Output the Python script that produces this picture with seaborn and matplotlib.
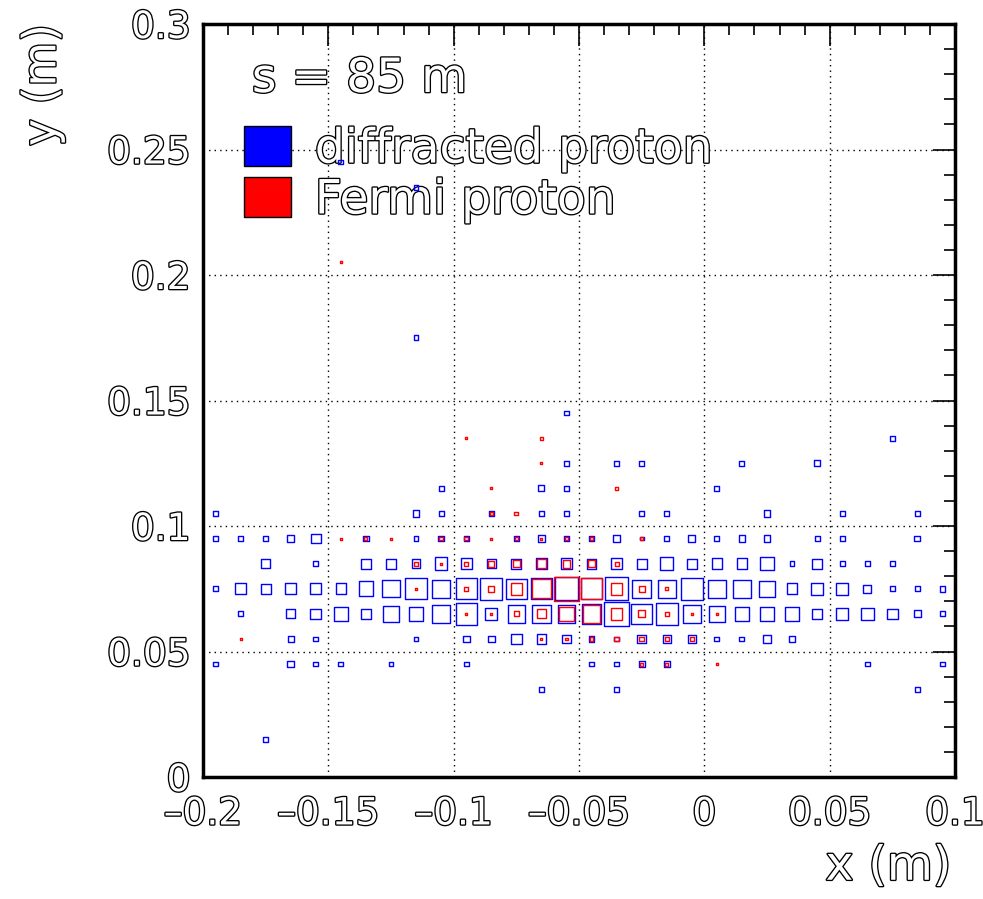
import numpy as np
import pandas as pd
import matplotlib
matplotlib.use("Agg")
import matplotlib.pyplot as plt
import matplotlib.patheffects as pe
from matplotlib.patches import Patch
from matplotlib.ticker import MultipleLocator, FuncFormatter
import seaborn as sns

# === histogram bins (bin centres, m) ===
X_CENTERS = [-0.195, -0.185, -0.175, -0.165, -0.155, -0.145, -0.135, -0.125, -0.115, -0.105,
             -0.095, -0.085, -0.075, -0.065, -0.055, -0.045, -0.035, -0.025, -0.015, -0.005,
             0.005, 0.015, 0.025, 0.035, 0.045, 0.055, 0.065, 0.075, 0.085, 0.095]
CORE_Y = [0.045, 0.055, 0.065, 0.075, 0.085, 0.095]

# bin contents in the dense band (one row per CORE_Y value)
BLUE_CORE = [
    [5, 0, 0, 7, 5, 5, 0, 5, 0, 0, 5, 0, 0, 0, 0, 5, 5, 6, 6, 0, 0, 0, 0, 0, 0, 0, 5, 0, 0, 5],
    [0, 0, 0, 6, 5, 0, 0, 0, 5, 0, 7, 7, 11, 10, 9, 6, 5, 9, 8, 8, 5, 5, 8, 6, 0, 0, 0, 0, 0, 0],
    [0, 5, 0, 9, 11, 14, 11, 17, 15, 19, 22, 12, 18, 19, 18, 20, 25, 21, 23, 19, 16, 15, 15, 15, 10, 12, 13, 11, 7, 5],
    [5, 11, 10, 11, 11, 11, 15, 18, 22, 19, 22, 23, 21, 22, 24, 22, 24, 19, 19, 23, 19, 19, 17, 11, 12, 12, 8, 5, 5, 6],
    [0, 0, 9, 0, 5, 0, 10, 10, 9, 13, 11, 9, 10, 12, 11, 10, 11, 10, 13, 10, 11, 11, 14, 5, 10, 5, 5, 5, 0, 0],
    [5, 5, 5, 7, 10, 0, 6, 0, 5, 6, 5, 0, 5, 7, 6, 6, 8, 4, 5, 7, 5, 7, 7, 0, 5, 5, 0, 0, 6, 0],
]
RED_CORE = [
    [0, 0, 0, 0, 0, 0, 0, 0, 0, 0, 0, 0, 0, 0, 0, 0, 0, 3, 3, 0, 2, 0, 0, 0, 0, 0, 0, 0, 0, 0],
    [0, 2, 0, 0, 0, 0, 0, 0, 0, 0, 0, 0, 0, 2, 3, 4, 5, 5, 4, 4, 0, 0, 0, 0, 0, 0, 0, 0, 0, 0],
    [0, 0, 0, 0, 0, 0, 0, 0, 0, 0, 2, 2, 5, 9, 15, 18, 12, 7, 4, 2, 2, 0, 0, 0, 0, 0, 0, 0, 0, 0],
    [0, 0, 0, 0, 0, 0, 0, 0, 2, 0, 4, 6, 12, 20, 25, 22, 12, 6, 3, 0, 0, 0, 0, 0, 0, 0, 0, 0, 0, 0],
    [0, 0, 0, 0, 0, 0, 0, 0, 4, 2, 4, 6, 7, 9, 8, 7, 4, 0, 0, 0, 0, 0, 0, 0, 0, 0, 0, 0, 0, 0],
    [0, 0, 0, 0, 0, 2, 3, 2, 0, 4, 4, 2, 3, 2, 4, 4, 0, 3, 0, 0, 0, 0, 0, 0, 0, 0, 0, 0, 0, 0],
]

# isolated bins outside the band
BLUE_X = [-0.195, -0.115, -0.105, -0.085, -0.065, -0.055, -0.025, -0.015, 0.025, 0.055, 0.085,
          -0.105, -0.065, -0.055, 0.005,
          -0.055, -0.035, -0.025, 0.015, 0.045,
          0.075, -0.055, -0.115, -0.115, -0.145,
          -0.065, -0.035, 0.085, -0.175]
BLUE_Y = [0.105, 0.105, 0.105, 0.105, 0.105, 0.105, 0.105, 0.105, 0.105, 0.105, 0.105,
          0.115, 0.115, 0.115, 0.115,
          0.125, 0.125, 0.125, 0.125, 0.125,
          0.135, 0.145, 0.175, 0.235, 0.245,
          0.035, 0.035, 0.035, 0.015]
BLUE_N = [5, 7, 5, 5, 5, 5, 5, 5, 7, 5, 5,
          5, 6, 5, 5,
          5, 5, 5, 5, 6,
          5, 5, 5, 5, 5,
          5, 5, 5, 5]

RED_X = [-0.085, -0.075, -0.085, -0.035, -0.065, -0.095, -0.065, -0.145]
RED_Y = [0.105, 0.105, 0.115, 0.115, 0.125, 0.135, 0.135, 0.205]
RED_N = [3, 4, 2, 3, 2, 2, 3, 2]

N_MAX = 25
BIN_PT = 0.72 * 25 * 0.97   # side of a full box, points


def make_frame(core, xs, ys, ns):
    rows = []
    for yc, row in zip(CORE_Y, core):
        for xc, n in zip(X_CENTERS, row):
            if n > 0:
                rows.append((xc, yc, n))
    rows += list(zip(xs, ys, ns))
    df = pd.DataFrame(rows, columns=["x", "y", "n"])
    df["area"] = df["n"] ** 2   # box side proportional to content
    return df


df_blue = make_frame(BLUE_CORE, BLUE_X, BLUE_Y, BLUE_N)
df_red = make_frame(RED_CORE, RED_X, RED_Y, RED_N)

sns.set_style("white")
plt.rcParams["font.family"] = ["DejaVu Sans"]
plt.rcParams["axes.unicode_minus"] = False

# ROOT-like hollow lettering
outline = [pe.Stroke(linewidth=1.9, foreground="black"), pe.Normal()]

fig = plt.figure(figsize=(9.83, 8.99), dpi=100)
ax = fig.add_axes([0.2065, 0.1357, 0.765, 0.8376])

for df, col in [(df_blue, "blue"), (df_red, "red")]:
    sns.scatterplot(data=df, x="x", y="y", size="area", sizes=(0, BIN_PT ** 2),
                    size_norm=(0, N_MAX ** 2), marker="s", color=col,
                    facecolor="none", edgecolor=col, linewidth=1.0,
                    legend=False, ax=ax, zorder=3)

ax.set_xlim(-0.2, 0.1)
ax.set_ylim(0, 0.3)
ax.xaxis.set_major_locator(MultipleLocator(0.05))
ax.xaxis.set_minor_locator(MultipleLocator(0.01))
ax.yaxis.set_major_locator(MultipleLocator(0.05))
ax.yaxis.set_minor_locator(MultipleLocator(0.01))
fmt = FuncFormatter(lambda v, p: f"{v:g}".replace("-", "\u2013") if abs(v) > 1e-9 else "0")
ax.xaxis.set_major_formatter(fmt)
ax.yaxis.set_major_formatter(fmt)

ax.grid(True, which="major", color="black", linestyle=(0, (1, 3)), linewidth=1.0)
ax.set_axisbelow(True)
for s in ax.spines.values():
    s.set_linewidth(2.5)
    s.set_color("black")

ax.tick_params(which="both", direction="in", top=True, right=True, width=1.2, color="black")
ax.tick_params(which="major", length=16, labelsize=27)
ax.tick_params(which="minor", length=8)
ax.tick_params(axis="x", which="major", pad=14)
ax.tick_params(axis="y", which="major", pad=9)
for lab in ax.get_xticklabels() + ax.get_yticklabels():
    lab.set_color("white")
    lab.set_path_effects(outline)

ax.set_xlabel("x (m)", fontsize=34, loc="right", color="white", path_effects=outline)
ax.xaxis.set_label_coords(0.995, -0.09)
ax.set_ylabel("y (m)", fontsize=33, loc="top", color="white", path_effects=outline)
ax.yaxis.set_label_coords(-0.183, 1.0)

ax.text(0.065, 0.9097, "s = 85 m", transform=ax.transAxes, fontsize=34, va="baseline",
        ha="left", color="white", path_effects=outline, zorder=2)

handles = [Patch(facecolor="blue", edgecolor="black", linewidth=1.0),
           Patch(facecolor="red", edgecolor="black", linewidth=1.0)]
leg = ax.legend(handles, ["diffracted proton", "Fermi proton"], loc="upper left",
                bbox_to_anchor=(0.0545, 0.864), frameon=False, fontsize=34,
                handlelength=1.0, handleheight=0.92, handletextpad=0.5,
                labelspacing=0.1, borderpad=0.0, borderaxespad=0.0)
leg.set_zorder(2)   # keep histogram boxes visible over the legend text
for t in leg.get_texts():
    t.set_color("white")
    t.set_path_effects(outline)

fig.savefig("out.png", dpi=100)
